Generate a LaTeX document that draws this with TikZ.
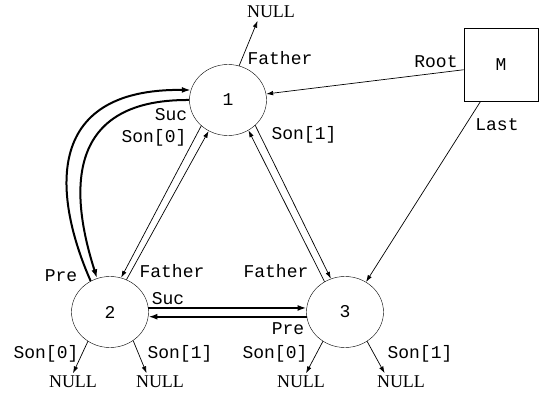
\documentclass[tikz,border=0pt]{standalone}
\usepackage{fontspec}
\setmainfont{Liberation Serif}
\setmonofont{Liberation Mono}
\usetikzlibrary{arrows.meta,shapes.geometric}
\begin{document}
\begin{tikzpicture}[x=1pt,y=-1pt,node font=\fontsize{18}{21}\selectfont,
        knot/.style={draw,ellipse,minimum width=77pt,minimum height=71pt,inner sep=0pt,font=\ttfamily},
        lbl/.style={font=\ttfamily,inner sep=0pt},
        nul/.style={inner sep=2.5pt},
        ptr/.style={-{Latex[length=7pt,width=4.5pt]},line width=0.7pt},
        lnk/.style={-{Latex[length=9pt,width=6pt]},line width=2pt}]
    \useasboundingbox (0,0) rectangle (539,396);
    % the three nodes and the M block
    \node[knot] (n1) at (228,100) {1};
    \node[knot] (n2) at (110,312) {2};
    \node[knot] (n3) at (345,312) {3};
    \node[draw,line width=0.7pt,minimum width=74pt,minimum height=73pt,font=\ttfamily] (m) at (501,64.5) {M};
    % NULL ends
    \node[nul] (null1) at (271,12) {NULL};
    \node[nul] (null2a) at (73,382) {NULL};
    \node[nul] (null2b) at (160,382) {NULL};
    \node[nul] (null3a) at (301,382) {NULL};
    \node[nul] (null3b) at (401,382) {NULL};
    % pointers
    \draw[ptr] (n1.72) -- (null1.213);
    \draw[ptr] (m.188) -- (n1.9);
    \draw[ptr] (m.241) -- (n3.55);
    \draw[ptr] (n1.224) -- (n2.72);
    \draw[ptr] (n2.63) -- (n1.238);
    \draw[ptr] (n3.124) -- (n1.304);
    \draw[ptr] (n1.317) -- (n3.113);
    \draw[ptr] (n2.233) -- (null2a.north);
    \draw[ptr] (n2.309) -- (null2b.147);
    \draw[ptr] (n3.233) -- (null3a.60);
    \draw[ptr] (n3.307) -- (null3b.152);
    % list links
    \draw[lnk] (n1.180) .. controls (60,99) and (72,200) .. (n2.111);
    \draw[lnk] (n2.122) .. controls (55,200) and (40,88) .. (n1.165);
    \draw[lnk] (n2.6) -- (n3.174);
    \draw[lnk] (n3.187) -- (n2.-7);
    % field names
    \node[lbl] (f1) at (280,58) {Father};
    \node[lbl] (root) at (436,62) {Root};
    \node[lbl] (last) at (497,125) {Last};
    \node[lbl] (suc1) at (171,115) {Suc};
    \node[lbl] (s10) at (154,138) {Son[0]};
    \node[lbl] (s11) at (304,135) {Son[1]};
    \node[lbl] (pre2) at (61,276) {Pre};
    \node[lbl] (f2) at (172,271) {Father};
    \node[lbl] (f3) at (276,271) {Father};
    \node[lbl] (suc2) at (168,299) {Suc};
    \node[lbl] (pre3) at (288,329) {Pre};
    \node[lbl] (s20) at (46,354) {Son[0]};
    \node[lbl] (s21) at (180,354) {Son[1]};
    \node[lbl] (s30) at (275,354) {Son[0]};
    \node[lbl] (s31) at (420,354) {Son[1]};
\end{tikzpicture}
\end{document}
